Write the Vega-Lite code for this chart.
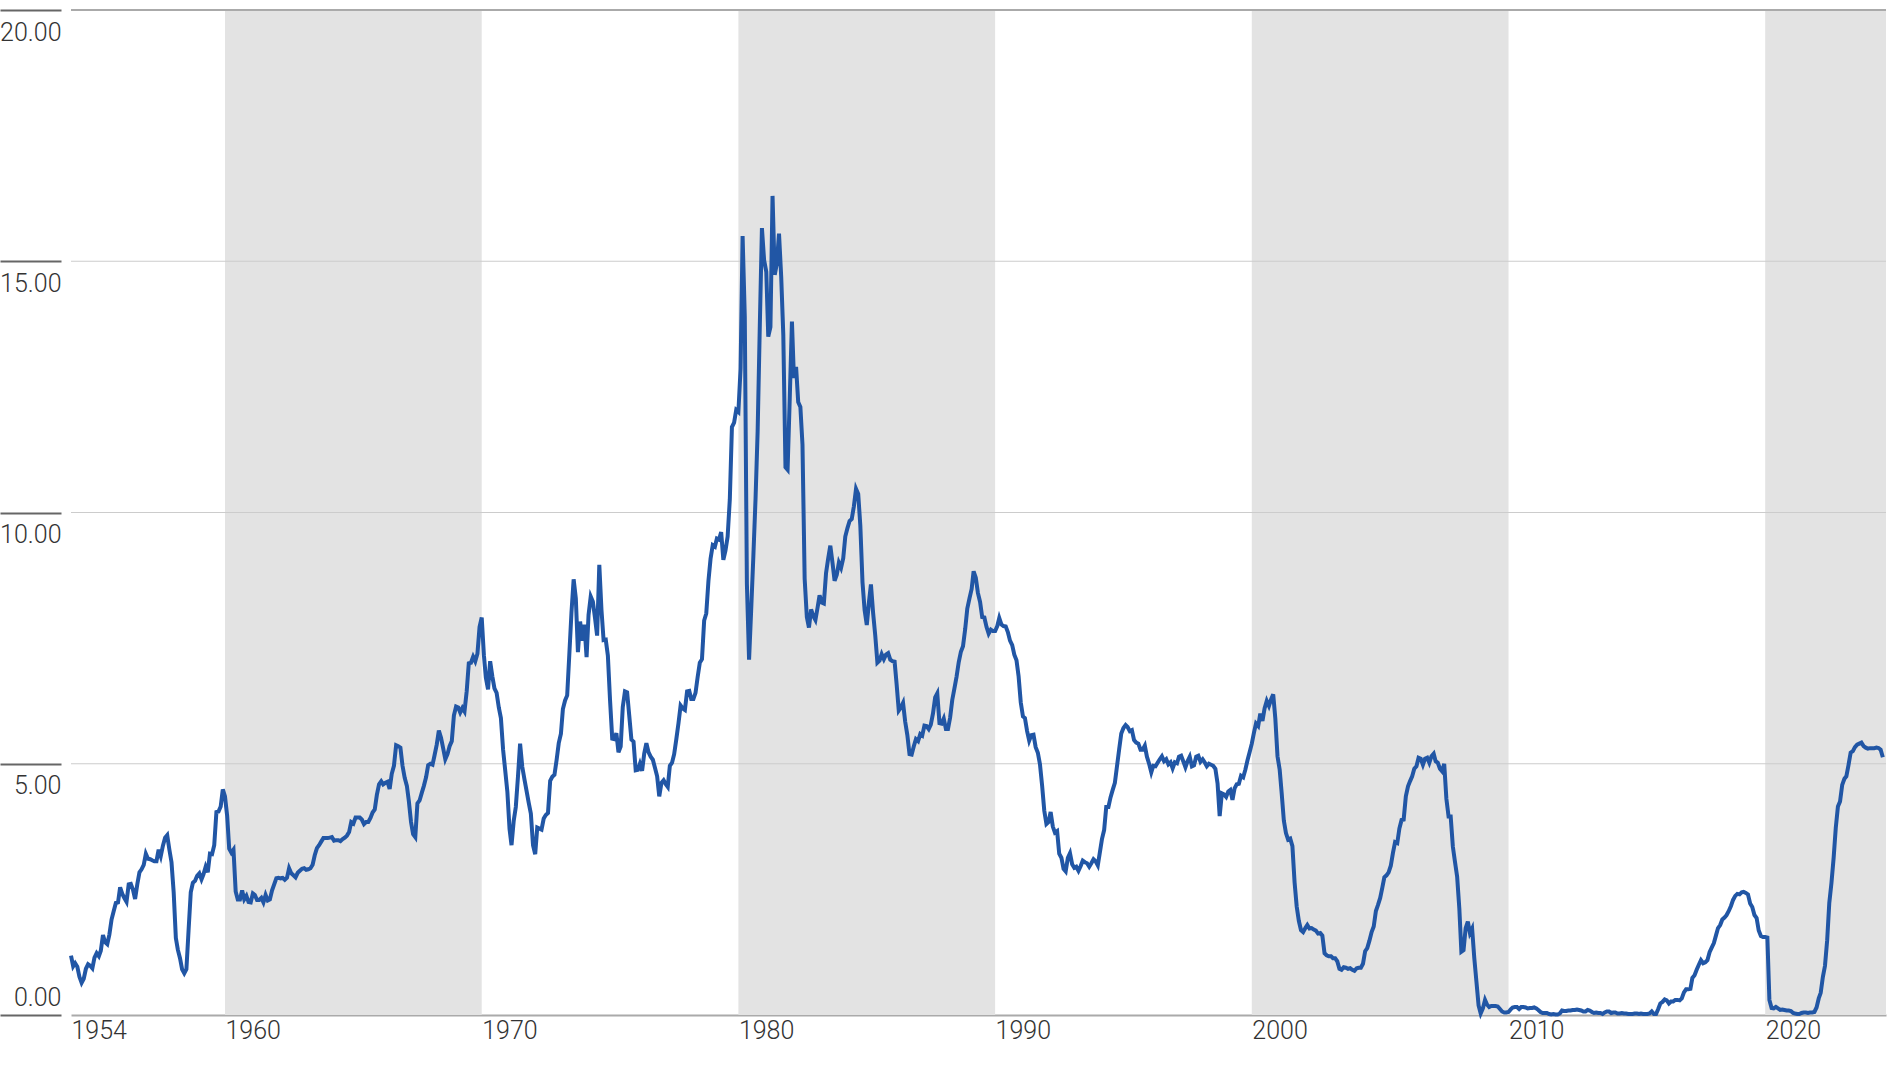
{
  "$schema": "https://vega.github.io/schema/vega-lite/v6.json",
  "width": 1815,
  "height": 1005,
  "autosize": {"type": "none"},
  "padding": {"left": 71, "top": 10, "right": 10, "bottom": 51},
  "background": "white",
  "config": {
    "view": {"stroke": null},
    "font": "Roboto"
  },
  "datasets": {
    "bands": [
      {"s": "1960-01-01", "e": "1970-01-01"},
      {"s": "1980-01-01", "e": "1990-01-01"},
      {"s": "2000-01-01", "e": "2010-01-01"},
      {"s": "2020-01-01", "e": "2024-09-15"}
    ],
    "grid": [{"g": 5}, {"g": 10}, {"g": 15}],
    "top": [{"g": 20}],
    "rate": [
{"d":"1954-01","v":1.18},{"d":"1954-02","v":0.97},{"d":"1954-03","v":1.03},{"d":"1954-04","v":0.96},{"d":"1954-05","v":0.76},{"d":"1954-06","v":0.64},{"d":"1954-07","v":0.72},{"d":"1954-08","v":0.92},{"d":"1954-09","v":1.01},{"d":"1954-10","v":0.98},{"d":"1954-11","v":0.93},{"d":"1954-12","v":1.14},
{"d":"1955-01","v":1.23},{"d":"1955-02","v":1.17},{"d":"1955-03","v":1.28},{"d":"1955-04","v":1.59},{"d":"1955-05","v":1.45},{"d":"1955-06","v":1.41},{"d":"1955-07","v":1.60},{"d":"1955-08","v":1.90},{"d":"1955-09","v":2.07},{"d":"1955-10","v":2.23},{"d":"1955-11","v":2.24},{"d":"1955-12","v":2.54},
{"d":"1956-01","v":2.41},{"d":"1956-02","v":2.32},{"d":"1956-03","v":2.25},{"d":"1956-04","v":2.60},{"d":"1956-05","v":2.61},{"d":"1956-06","v":2.49},{"d":"1956-07","v":2.31},{"d":"1956-08","v":2.60},{"d":"1956-09","v":2.84},{"d":"1956-10","v":2.90},{"d":"1956-11","v":2.99},{"d":"1956-12","v":3.21},
{"d":"1957-01","v":3.11},{"d":"1957-02","v":3.10},{"d":"1957-03","v":3.08},{"d":"1957-04","v":3.06},{"d":"1957-05","v":3.06},{"d":"1957-06","v":3.29},{"d":"1957-07","v":3.16},{"d":"1957-08","v":3.37},{"d":"1957-09","v":3.53},{"d":"1957-10","v":3.58},{"d":"1957-11","v":3.29},{"d":"1957-12","v":3.04},
{"d":"1958-01","v":2.44},{"d":"1958-02","v":1.53},{"d":"1958-03","v":1.30},{"d":"1958-04","v":1.13},{"d":"1958-05","v":0.91},{"d":"1958-06","v":0.83},{"d":"1958-07","v":0.91},{"d":"1958-08","v":1.69},{"d":"1958-09","v":2.44},{"d":"1958-10","v":2.63},{"d":"1958-11","v":2.67},{"d":"1958-12","v":2.77},
{"d":"1959-01","v":2.82},{"d":"1959-02","v":2.70},{"d":"1959-03","v":2.80},{"d":"1959-04","v":2.95},{"d":"1959-05","v":2.84},{"d":"1959-06","v":3.21},{"d":"1959-07","v":3.20},{"d":"1959-08","v":3.38},{"d":"1959-09","v":4.04},{"d":"1959-10","v":4.05},{"d":"1959-11","v":4.15},{"d":"1959-12","v":4.49},
{"d":"1960-01","v":4.35},{"d":"1960-02","v":3.96},{"d":"1960-03","v":3.31},{"d":"1960-04","v":3.23},{"d":"1960-05","v":3.29},{"d":"1960-06","v":2.46},{"d":"1960-07","v":2.30},{"d":"1960-08","v":2.30},{"d":"1960-09","v":2.48},{"d":"1960-10","v":2.30},{"d":"1960-11","v":2.37},{"d":"1960-12","v":2.25},
{"d":"1961-01","v":2.24},{"d":"1961-02","v":2.42},{"d":"1961-03","v":2.39},{"d":"1961-04","v":2.29},{"d":"1961-05","v":2.29},{"d":"1961-06","v":2.33},{"d":"1961-07","v":2.24},{"d":"1961-08","v":2.39},{"d":"1961-09","v":2.28},{"d":"1961-10","v":2.30},{"d":"1961-11","v":2.48},{"d":"1961-12","v":2.60},
{"d":"1962-01","v":2.72},{"d":"1962-02","v":2.73},{"d":"1962-03","v":2.72},{"d":"1962-04","v":2.73},{"d":"1962-05","v":2.69},{"d":"1962-06","v":2.73},{"d":"1962-07","v":2.92},{"d":"1962-08","v":2.82},{"d":"1962-09","v":2.78},{"d":"1962-10","v":2.74},{"d":"1962-11","v":2.83},{"d":"1962-12","v":2.87},
{"d":"1963-01","v":2.91},{"d":"1963-02","v":2.92},{"d":"1963-03","v":2.89},{"d":"1963-04","v":2.90},{"d":"1963-05","v":2.92},{"d":"1963-06","v":2.99},{"d":"1963-07","v":3.18},{"d":"1963-08","v":3.32},{"d":"1963-09","v":3.38},{"d":"1963-10","v":3.45},{"d":"1963-11","v":3.52},{"d":"1963-12","v":3.52},
{"d":"1964-01","v":3.52},{"d":"1964-02","v":3.53},{"d":"1964-03","v":3.54},{"d":"1964-04","v":3.47},{"d":"1964-05","v":3.48},{"d":"1964-06","v":3.48},{"d":"1964-07","v":3.46},{"d":"1964-08","v":3.50},{"d":"1964-09","v":3.53},{"d":"1964-10","v":3.57},{"d":"1964-11","v":3.64},{"d":"1964-12","v":3.84},
{"d":"1965-01","v":3.81},{"d":"1965-02","v":3.93},{"d":"1965-03","v":3.93},{"d":"1965-04","v":3.93},{"d":"1965-05","v":3.89},{"d":"1965-06","v":3.80},{"d":"1965-07","v":3.84},{"d":"1965-08","v":3.84},{"d":"1965-09","v":3.92},{"d":"1965-10","v":4.03},{"d":"1965-11","v":4.09},{"d":"1965-12","v":4.38},
{"d":"1966-01","v":4.59},{"d":"1966-02","v":4.65},{"d":"1966-03","v":4.59},{"d":"1966-04","v":4.62},{"d":"1966-05","v":4.64},{"d":"1966-06","v":4.50},{"d":"1966-07","v":4.80},{"d":"1966-08","v":4.96},{"d":"1966-09","v":5.37},{"d":"1966-10","v":5.35},{"d":"1966-11","v":5.32},{"d":"1966-12","v":4.96},
{"d":"1967-01","v":4.72},{"d":"1967-02","v":4.56},{"d":"1967-03","v":4.26},{"d":"1967-04","v":3.84},{"d":"1967-05","v":3.60},{"d":"1967-06","v":3.54},{"d":"1967-07","v":4.21},{"d":"1967-08","v":4.27},{"d":"1967-09","v":4.42},{"d":"1967-10","v":4.56},{"d":"1967-11","v":4.73},{"d":"1967-12","v":4.97},
{"d":"1968-01","v":5.00},{"d":"1968-02","v":4.98},{"d":"1968-03","v":5.17},{"d":"1968-04","v":5.38},{"d":"1968-05","v":5.66},{"d":"1968-06","v":5.52},{"d":"1968-07","v":5.31},{"d":"1968-08","v":5.09},{"d":"1968-09","v":5.19},{"d":"1968-10","v":5.35},{"d":"1968-11","v":5.45},{"d":"1968-12","v":5.96},
{"d":"1969-01","v":6.14},{"d":"1969-02","v":6.12},{"d":"1969-03","v":6.02},{"d":"1969-04","v":6.11},{"d":"1969-05","v":6.04},{"d":"1969-06","v":6.44},{"d":"1969-07","v":7.00},{"d":"1969-08","v":7.01},{"d":"1969-09","v":7.13},{"d":"1969-10","v":7.04},{"d":"1969-11","v":7.19},{"d":"1969-12","v":7.72},
{"d":"1970-01","v":7.91},{"d":"1970-02","v":7.16},{"d":"1970-03","v":6.71},{"d":"1970-04","v":6.48},{"d":"1970-05","v":7.04},{"d":"1970-06","v":6.74},{"d":"1970-07","v":6.50},{"d":"1970-08","v":6.41},{"d":"1970-09","v":6.12},{"d":"1970-10","v":5.91},{"d":"1970-11","v":5.28},{"d":"1970-12","v":4.87},
{"d":"1971-01","v":4.44},{"d":"1971-02","v":3.70},{"d":"1971-03","v":3.38},{"d":"1971-04","v":3.86},{"d":"1971-05","v":4.14},{"d":"1971-06","v":4.75},{"d":"1971-07","v":5.40},{"d":"1971-08","v":4.94},{"d":"1971-09","v":4.69},{"d":"1971-10","v":4.46},{"d":"1971-11","v":4.22},{"d":"1971-12","v":4.01},
{"d":"1972-01","v":3.38},{"d":"1972-02","v":3.20},{"d":"1972-03","v":3.73},{"d":"1972-04","v":3.71},{"d":"1972-05","v":3.69},{"d":"1972-06","v":3.91},{"d":"1972-07","v":3.98},{"d":"1972-08","v":4.02},{"d":"1972-09","v":4.66},{"d":"1972-10","v":4.74},{"d":"1972-11","v":4.78},{"d":"1972-12","v":5.07},
{"d":"1973-01","v":5.41},{"d":"1973-02","v":5.60},{"d":"1973-03","v":6.09},{"d":"1973-04","v":6.26},{"d":"1973-05","v":6.36},{"d":"1973-06","v":7.19},{"d":"1973-07","v":8.01},{"d":"1973-08","v":8.67},{"d":"1973-09","v":8.29},{"d":"1973-10","v":7.22},{"d":"1973-11","v":7.83},{"d":"1973-12","v":7.45},
{"d":"1974-01","v":7.77},{"d":"1974-02","v":7.12},{"d":"1974-03","v":7.96},{"d":"1974-04","v":8.33},{"d":"1974-05","v":8.23},{"d":"1974-06","v":7.90},{"d":"1974-07","v":7.55},{"d":"1974-08","v":8.96},{"d":"1974-09","v":8.06},{"d":"1974-10","v":7.46},{"d":"1974-11","v":7.47},{"d":"1974-12","v":7.15},
{"d":"1975-01","v":6.26},{"d":"1975-02","v":5.50},{"d":"1975-03","v":5.49},{"d":"1975-04","v":5.61},{"d":"1975-05","v":5.23},{"d":"1975-06","v":5.34},{"d":"1975-07","v":6.13},{"d":"1975-08","v":6.44},{"d":"1975-09","v":6.42},{"d":"1975-10","v":5.96},{"d":"1975-11","v":5.48},{"d":"1975-12","v":5.44},
{"d":"1976-01","v":4.87},{"d":"1976-02","v":4.88},{"d":"1976-03","v":5.00},{"d":"1976-04","v":4.86},{"d":"1976-05","v":5.20},{"d":"1976-06","v":5.41},{"d":"1976-07","v":5.23},{"d":"1976-08","v":5.14},{"d":"1976-09","v":5.08},{"d":"1976-10","v":4.92},{"d":"1976-11","v":4.75},{"d":"1976-12","v":4.35},
{"d":"1977-01","v":4.62},{"d":"1977-02","v":4.67},{"d":"1977-03","v":4.60},{"d":"1977-04","v":4.54},{"d":"1977-05","v":4.96},{"d":"1977-06","v":5.02},{"d":"1977-07","v":5.19},{"d":"1977-08","v":5.49},{"d":"1977-09","v":5.81},{"d":"1977-10","v":6.16},{"d":"1977-11","v":6.10},{"d":"1977-12","v":6.07},
{"d":"1978-01","v":6.44},{"d":"1978-02","v":6.45},{"d":"1978-03","v":6.29},{"d":"1978-04","v":6.29},{"d":"1978-05","v":6.41},{"d":"1978-06","v":6.73},{"d":"1978-07","v":7.01},{"d":"1978-08","v":7.08},{"d":"1978-09","v":7.85},{"d":"1978-10","v":7.99},{"d":"1978-11","v":8.64},{"d":"1978-12","v":9.08},
{"d":"1979-01","v":9.35},{"d":"1979-02","v":9.32},{"d":"1979-03","v":9.48},{"d":"1979-04","v":9.46},{"d":"1979-05","v":9.61},{"d":"1979-06","v":9.06},{"d":"1979-07","v":9.24},{"d":"1979-08","v":9.52},{"d":"1979-09","v":10.26},{"d":"1979-10","v":11.70},{"d":"1979-11","v":11.79},{"d":"1979-12","v":12.04},
{"d":"1980-01","v":12.00},{"d":"1980-02","v":12.86},{"d":"1980-03","v":15.50},{"d":"1980-04","v":13.90},{"d":"1980-05","v":8.58},{"d":"1980-06","v":7.07},{"d":"1980-07","v":8.06},{"d":"1980-08","v":9.13},{"d":"1980-09","v":10.27},{"d":"1980-10","v":11.62},{"d":"1980-11","v":13.73},{"d":"1980-12","v":15.66},
{"d":"1981-01","v":15.02},{"d":"1981-02","v":14.79},{"d":"1981-03","v":13.50},{"d":"1981-04","v":13.69},{"d":"1981-05","v":16.30},{"d":"1981-06","v":14.73},{"d":"1981-07","v":14.95},{"d":"1981-08","v":15.55},{"d":"1981-09","v":14.70},{"d":"1981-10","v":13.54},{"d":"1981-11","v":10.90},{"d":"1981-12","v":10.85},
{"d":"1982-01","v":12.28},{"d":"1982-02","v":13.80},{"d":"1982-03","v":12.68},{"d":"1982-04","v":12.90},{"d":"1982-05","v":12.20},{"d":"1982-06","v":12.10},{"d":"1982-07","v":11.35},{"d":"1982-08","v":8.68},{"d":"1982-09","v":7.92},{"d":"1982-10","v":7.71},{"d":"1982-11","v":8.07},{"d":"1982-12","v":7.94},
{"d":"1983-01","v":7.86},{"d":"1983-02","v":8.11},{"d":"1983-03","v":8.35},{"d":"1983-04","v":8.21},{"d":"1983-05","v":8.19},{"d":"1983-06","v":8.79},{"d":"1983-07","v":9.08},{"d":"1983-08","v":9.34},{"d":"1983-09","v":9.00},{"d":"1983-10","v":8.64},{"d":"1983-11","v":8.76},{"d":"1983-12","v":9.00},
{"d":"1984-01","v":8.90},{"d":"1984-02","v":9.09},{"d":"1984-03","v":9.52},{"d":"1984-04","v":9.69},{"d":"1984-05","v":9.83},{"d":"1984-06","v":9.87},{"d":"1984-07","v":10.12},{"d":"1984-08","v":10.47},{"d":"1984-09","v":10.37},{"d":"1984-10","v":9.74},{"d":"1984-11","v":8.61},{"d":"1984-12","v":8.06},
{"d":"1985-01","v":7.76},{"d":"1985-02","v":8.22},{"d":"1985-03","v":8.57},{"d":"1985-04","v":8.00},{"d":"1985-05","v":7.56},{"d":"1985-06","v":7.01},{"d":"1985-07","v":7.05},{"d":"1985-08","v":7.18},{"d":"1985-09","v":7.08},{"d":"1985-10","v":7.17},{"d":"1985-11","v":7.20},{"d":"1985-12","v":7.07},
{"d":"1986-01","v":7.04},{"d":"1986-02","v":7.03},{"d":"1986-03","v":6.59},{"d":"1986-04","v":6.06},{"d":"1986-05","v":6.12},{"d":"1986-06","v":6.21},{"d":"1986-07","v":5.84},{"d":"1986-08","v":5.57},{"d":"1986-09","v":5.19},{"d":"1986-10","v":5.18},{"d":"1986-11","v":5.35},{"d":"1986-12","v":5.49},
{"d":"1987-01","v":5.45},{"d":"1987-02","v":5.59},{"d":"1987-03","v":5.56},{"d":"1987-04","v":5.76},{"d":"1987-05","v":5.75},{"d":"1987-06","v":5.69},{"d":"1987-07","v":5.78},{"d":"1987-08","v":6.00},{"d":"1987-09","v":6.32},{"d":"1987-10","v":6.40},{"d":"1987-11","v":5.81},{"d":"1987-12","v":5.80},
{"d":"1988-01","v":5.90},{"d":"1988-02","v":5.69},{"d":"1988-03","v":5.69},{"d":"1988-04","v":5.92},{"d":"1988-05","v":6.27},{"d":"1988-06","v":6.50},{"d":"1988-07","v":6.73},{"d":"1988-08","v":7.02},{"d":"1988-09","v":7.23},{"d":"1988-10","v":7.34},{"d":"1988-11","v":7.68},{"d":"1988-12","v":8.09},
{"d":"1989-01","v":8.29},{"d":"1989-02","v":8.48},{"d":"1989-03","v":8.83},{"d":"1989-04","v":8.70},{"d":"1989-05","v":8.40},{"d":"1989-06","v":8.22},{"d":"1989-07","v":7.92},{"d":"1989-08","v":7.91},{"d":"1989-09","v":7.72},{"d":"1989-10","v":7.59},{"d":"1989-11","v":7.67},{"d":"1989-12","v":7.64},
{"d":"1990-01","v":7.64},{"d":"1990-02","v":7.74},{"d":"1990-03","v":7.90},{"d":"1990-04","v":7.77},{"d":"1990-05","v":7.74},{"d":"1990-06","v":7.73},{"d":"1990-07","v":7.62},{"d":"1990-08","v":7.45},{"d":"1990-09","v":7.36},{"d":"1990-10","v":7.17},{"d":"1990-11","v":7.06},{"d":"1990-12","v":6.74},
{"d":"1991-01","v":6.22},{"d":"1991-02","v":5.94},{"d":"1991-03","v":5.91},{"d":"1991-04","v":5.65},{"d":"1991-05","v":5.46},{"d":"1991-06","v":5.57},{"d":"1991-07","v":5.58},{"d":"1991-08","v":5.33},{"d":"1991-09","v":5.22},{"d":"1991-10","v":4.99},{"d":"1991-11","v":4.56},{"d":"1991-12","v":4.07},
{"d":"1992-01","v":3.80},{"d":"1992-02","v":3.84},{"d":"1992-03","v":4.04},{"d":"1992-04","v":3.75},{"d":"1992-05","v":3.63},{"d":"1992-06","v":3.66},{"d":"1992-07","v":3.21},{"d":"1992-08","v":3.13},{"d":"1992-09","v":2.91},{"d":"1992-10","v":2.86},{"d":"1992-11","v":3.13},{"d":"1992-12","v":3.22},
{"d":"1993-01","v":3.00},{"d":"1993-02","v":2.93},{"d":"1993-03","v":2.95},{"d":"1993-04","v":2.87},{"d":"1993-05","v":2.96},{"d":"1993-06","v":3.07},{"d":"1993-07","v":3.04},{"d":"1993-08","v":3.02},{"d":"1993-09","v":2.95},{"d":"1993-10","v":3.02},{"d":"1993-11","v":3.10},{"d":"1993-12","v":3.06},
{"d":"1994-01","v":2.98},{"d":"1994-02","v":3.25},{"d":"1994-03","v":3.50},{"d":"1994-04","v":3.68},{"d":"1994-05","v":4.14},{"d":"1994-06","v":4.14},{"d":"1994-07","v":4.33},{"d":"1994-08","v":4.48},{"d":"1994-09","v":4.62},{"d":"1994-10","v":4.95},{"d":"1994-11","v":5.29},{"d":"1994-12","v":5.60},
{"d":"1995-01","v":5.71},{"d":"1995-02","v":5.77},{"d":"1995-03","v":5.73},{"d":"1995-04","v":5.65},{"d":"1995-05","v":5.67},{"d":"1995-06","v":5.47},{"d":"1995-07","v":5.42},{"d":"1995-08","v":5.40},{"d":"1995-09","v":5.28},{"d":"1995-10","v":5.28},{"d":"1995-11","v":5.36},{"d":"1995-12","v":5.14},
{"d":"1996-01","v":5.00},{"d":"1996-02","v":4.83},{"d":"1996-03","v":4.96},{"d":"1996-04","v":4.95},{"d":"1996-05","v":5.02},{"d":"1996-06","v":5.09},{"d":"1996-07","v":5.15},{"d":"1996-08","v":5.05},{"d":"1996-09","v":5.09},{"d":"1996-10","v":4.99},{"d":"1996-11","v":5.03},{"d":"1996-12","v":4.91},
{"d":"1997-01","v":5.03},{"d":"1997-02","v":5.01},{"d":"1997-03","v":5.14},{"d":"1997-04","v":5.16},{"d":"1997-05","v":5.05},{"d":"1997-06","v":4.93},{"d":"1997-07","v":5.05},{"d":"1997-08","v":5.14},{"d":"1997-09","v":4.95},{"d":"1997-10","v":4.97},{"d":"1997-11","v":5.14},{"d":"1997-12","v":5.16},
{"d":"1998-01","v":5.04},{"d":"1998-02","v":5.09},{"d":"1998-03","v":5.03},{"d":"1998-04","v":4.95},{"d":"1998-05","v":5.00},{"d":"1998-06","v":4.98},{"d":"1998-07","v":4.96},{"d":"1998-08","v":4.90},{"d":"1998-09","v":4.61},{"d":"1998-10","v":3.96},{"d":"1998-11","v":4.41},{"d":"1998-12","v":4.39},
{"d":"1999-01","v":4.34},{"d":"1999-02","v":4.45},{"d":"1999-03","v":4.48},{"d":"1999-04","v":4.28},{"d":"1999-05","v":4.51},{"d":"1999-06","v":4.59},{"d":"1999-07","v":4.60},{"d":"1999-08","v":4.76},{"d":"1999-09","v":4.73},{"d":"1999-10","v":4.88},{"d":"1999-11","v":5.07},{"d":"1999-12","v":5.23},
{"d":"2000-01","v":5.40},{"d":"2000-02","v":5.62},{"d":"2000-03","v":5.80},{"d":"2000-04","v":5.75},{"d":"2000-05","v":6.00},{"d":"2000-06","v":5.85},{"d":"2000-07","v":6.10},{"d":"2000-08","v":6.25},{"d":"2000-09","v":6.15},{"d":"2000-10","v":6.28},{"d":"2000-11","v":6.38},{"d":"2000-12","v":5.90},
{"d":"2001-01","v":5.15},{"d":"2001-02","v":4.88},{"d":"2001-03","v":4.42},{"d":"2001-04","v":3.87},{"d":"2001-05","v":3.62},{"d":"2001-06","v":3.49},{"d":"2001-07","v":3.51},{"d":"2001-08","v":3.36},{"d":"2001-09","v":2.64},{"d":"2001-10","v":2.16},{"d":"2001-11","v":1.87},{"d":"2001-12","v":1.69},
{"d":"2002-01","v":1.65},{"d":"2002-02","v":1.73},{"d":"2002-03","v":1.79},{"d":"2002-04","v":1.72},{"d":"2002-05","v":1.73},{"d":"2002-06","v":1.70},{"d":"2002-07","v":1.68},{"d":"2002-08","v":1.62},{"d":"2002-09","v":1.63},{"d":"2002-10","v":1.58},{"d":"2002-11","v":1.23},{"d":"2002-12","v":1.19},
{"d":"2003-01","v":1.17},{"d":"2003-02","v":1.17},{"d":"2003-03","v":1.13},{"d":"2003-04","v":1.13},{"d":"2003-05","v":1.07},{"d":"2003-06","v":0.92},{"d":"2003-07","v":0.90},{"d":"2003-08","v":0.95},{"d":"2003-09","v":0.94},{"d":"2003-10","v":0.92},{"d":"2003-11","v":0.93},{"d":"2003-12","v":0.90},
{"d":"2004-01","v":0.88},{"d":"2004-02","v":0.93},{"d":"2004-03","v":0.94},{"d":"2004-04","v":0.94},{"d":"2004-05","v":1.02},{"d":"2004-06","v":1.27},{"d":"2004-07","v":1.33},{"d":"2004-08","v":1.48},{"d":"2004-09","v":1.65},{"d":"2004-10","v":1.76},{"d":"2004-11","v":2.07},{"d":"2004-12","v":2.19},
{"d":"2005-01","v":2.33},{"d":"2005-02","v":2.54},{"d":"2005-03","v":2.74},{"d":"2005-04","v":2.78},{"d":"2005-05","v":2.84},{"d":"2005-06","v":2.97},{"d":"2005-07","v":3.22},{"d":"2005-08","v":3.44},{"d":"2005-09","v":3.42},{"d":"2005-10","v":3.71},{"d":"2005-11","v":3.88},{"d":"2005-12","v":3.89},
{"d":"2006-01","v":4.35},{"d":"2006-02","v":4.55},{"d":"2006-03","v":4.65},{"d":"2006-04","v":4.75},{"d":"2006-05","v":4.90},{"d":"2006-06","v":4.95},{"d":"2006-07","v":5.12},{"d":"2006-08","v":5.10},{"d":"2006-09","v":4.98},{"d":"2006-10","v":5.10},{"d":"2006-11","v":5.12},{"d":"2006-12","v":5.02},
{"d":"2007-01","v":5.15},{"d":"2007-02","v":5.20},{"d":"2007-03","v":5.05},{"d":"2007-04","v":5.02},{"d":"2007-05","v":4.90},{"d":"2007-06","v":4.85},{"d":"2007-07","v":5.00},{"d":"2007-08","v":4.30},{"d":"2007-09","v":3.95},{"d":"2007-10","v":3.95},{"d":"2007-11","v":3.35},{"d":"2007-12","v":3.05},
{"d":"2008-01","v":2.75},{"d":"2008-02","v":2.12},{"d":"2008-03","v":1.26},{"d":"2008-04","v":1.29},{"d":"2008-05","v":1.73},{"d":"2008-06","v":1.86},{"d":"2008-07","v":1.63},{"d":"2008-08","v":1.72},{"d":"2008-09","v":1.13},{"d":"2008-10","v":0.67},{"d":"2008-11","v":0.19},{"d":"2008-12","v":0.03},
{"d":"2009-01","v":0.13},{"d":"2009-02","v":0.30},{"d":"2009-03","v":0.21},{"d":"2009-04","v":0.16},{"d":"2009-05","v":0.18},{"d":"2009-06","v":0.18},{"d":"2009-07","v":0.18},{"d":"2009-08","v":0.17},{"d":"2009-09","v":0.12},{"d":"2009-10","v":0.07},{"d":"2009-11","v":0.05},{"d":"2009-12","v":0.05},
{"d":"2010-01","v":0.06},{"d":"2010-02","v":0.11},{"d":"2010-03","v":0.15},{"d":"2010-04","v":0.16},{"d":"2010-05","v":0.16},{"d":"2010-06","v":0.12},{"d":"2010-07","v":0.16},{"d":"2010-08","v":0.16},{"d":"2010-09","v":0.15},{"d":"2010-10","v":0.13},{"d":"2010-11","v":0.14},{"d":"2010-12","v":0.14},
{"d":"2011-01","v":0.15},{"d":"2011-02","v":0.13},{"d":"2011-03","v":0.10},{"d":"2011-04","v":0.06},{"d":"2011-05","v":0.04},{"d":"2011-06","v":0.04},{"d":"2011-07","v":0.04},{"d":"2011-08","v":0.02},{"d":"2011-09","v":0.01},{"d":"2011-10","v":0.02},{"d":"2011-11","v":0.01},{"d":"2011-12","v":0.01},
{"d":"2012-01","v":0.03},{"d":"2012-02","v":0.09},{"d":"2012-03","v":0.08},{"d":"2012-04","v":0.08},{"d":"2012-05","v":0.09},{"d":"2012-06","v":0.09},{"d":"2012-07","v":0.10},{"d":"2012-08","v":0.10},{"d":"2012-09","v":0.11},{"d":"2012-10","v":0.10},{"d":"2012-11","v":0.09},{"d":"2012-12","v":0.07},
{"d":"2013-01","v":0.07},{"d":"2013-02","v":0.10},{"d":"2013-03","v":0.09},{"d":"2013-04","v":0.06},{"d":"2013-05","v":0.04},{"d":"2013-06","v":0.05},{"d":"2013-07","v":0.04},{"d":"2013-08","v":0.04},{"d":"2013-09","v":0.02},{"d":"2013-10","v":0.05},{"d":"2013-11","v":0.07},{"d":"2013-12","v":0.07},
{"d":"2014-01","v":0.04},{"d":"2014-02","v":0.05},{"d":"2014-03","v":0.05},{"d":"2014-04","v":0.03},{"d":"2014-05","v":0.03},{"d":"2014-06","v":0.04},{"d":"2014-07","v":0.03},{"d":"2014-08","v":0.03},{"d":"2014-09","v":0.02},{"d":"2014-10","v":0.02},{"d":"2014-11","v":0.02},{"d":"2014-12","v":0.03},
{"d":"2015-01","v":0.03},{"d":"2015-02","v":0.02},{"d":"2015-03","v":0.03},{"d":"2015-04","v":0.02},{"d":"2015-05","v":0.02},{"d":"2015-06","v":0.02},{"d":"2015-07","v":0.03},{"d":"2015-08","v":0.07},{"d":"2015-09","v":0.02},{"d":"2015-10","v":0.02},{"d":"2015-11","v":0.12},{"d":"2015-12","v":0.23},
{"d":"2016-01","v":0.26},{"d":"2016-02","v":0.31},{"d":"2016-03","v":0.29},{"d":"2016-04","v":0.23},{"d":"2016-05","v":0.27},{"d":"2016-06","v":0.27},{"d":"2016-07","v":0.30},{"d":"2016-08","v":0.30},{"d":"2016-09","v":0.29},{"d":"2016-10","v":0.33},{"d":"2016-11","v":0.45},{"d":"2016-12","v":0.51},
{"d":"2017-01","v":0.51},{"d":"2017-02","v":0.52},{"d":"2017-03","v":0.74},{"d":"2017-04","v":0.79},{"d":"2017-05","v":0.90},{"d":"2017-06","v":1.00},{"d":"2017-07","v":1.09},{"d":"2017-08","v":1.03},{"d":"2017-09","v":1.05},{"d":"2017-10","v":1.09},{"d":"2017-11","v":1.25},{"d":"2017-12","v":1.34},
{"d":"2018-01","v":1.43},{"d":"2018-02","v":1.59},{"d":"2018-03","v":1.73},{"d":"2018-04","v":1.79},{"d":"2018-05","v":1.90},{"d":"2018-06","v":1.94},{"d":"2018-07","v":1.99},{"d":"2018-08","v":2.07},{"d":"2018-09","v":2.17},{"d":"2018-10","v":2.29},{"d":"2018-11","v":2.37},{"d":"2018-12","v":2.41},
{"d":"2019-01","v":2.40},{"d":"2019-02","v":2.44},{"d":"2019-03","v":2.45},{"d":"2019-04","v":2.43},{"d":"2019-05","v":2.40},{"d":"2019-06","v":2.22},{"d":"2019-07","v":2.15},{"d":"2019-08","v":1.99},{"d":"2019-09","v":1.93},{"d":"2019-10","v":1.68},{"d":"2019-11","v":1.57},{"d":"2019-12","v":1.55},
{"d":"2020-01","v":1.55},{"d":"2020-02","v":1.54},{"d":"2020-03","v":0.30},{"d":"2020-04","v":0.14},{"d":"2020-05","v":0.13},{"d":"2020-06","v":0.16},{"d":"2020-07","v":0.13},{"d":"2020-08","v":0.10},{"d":"2020-09","v":0.11},{"d":"2020-10","v":0.10},{"d":"2020-11","v":0.09},{"d":"2020-12","v":0.09},
{"d":"2021-01","v":0.08},{"d":"2021-02","v":0.04},{"d":"2021-03","v":0.03},{"d":"2021-04","v":0.02},{"d":"2021-05","v":0.02},{"d":"2021-06","v":0.04},{"d":"2021-07","v":0.05},{"d":"2021-08","v":0.05},{"d":"2021-09","v":0.04},{"d":"2021-10","v":0.05},{"d":"2021-11","v":0.05},{"d":"2021-12","v":0.06},
{"d":"2022-01","v":0.15},{"d":"2022-02","v":0.33},{"d":"2022-03","v":0.44},{"d":"2022-04","v":0.76},{"d":"2022-05","v":0.98},{"d":"2022-06","v":1.49},{"d":"2022-07","v":2.23},{"d":"2022-08","v":2.63},{"d":"2022-09","v":3.13},{"d":"2022-10","v":3.72},{"d":"2022-11","v":4.15},{"d":"2022-12","v":4.25},
{"d":"2023-01","v":4.58},{"d":"2023-02","v":4.70},{"d":"2023-03","v":4.75},{"d":"2023-04","v":4.98},{"d":"2023-05","v":5.22},{"d":"2023-06","v":5.25},{"d":"2023-07","v":5.33},{"d":"2023-08","v":5.38},{"d":"2023-09","v":5.40},{"d":"2023-10","v":5.42},{"d":"2023-11","v":5.35},{"d":"2023-12","v":5.32},
{"d":"2024-01","v":5.30},{"d":"2024-02","v":5.31},{"d":"2024-03","v":5.31},{"d":"2024-04","v":5.31},{"d":"2024-05","v":5.32},{"d":"2024-06","v":5.31},{"d":"2024-07","v":5.28},{"d":"2024-08","v":5.13}
    ]
  },
  "layer": [
    {
      "data": {"name": "bands"},
      "mark": {"type": "rect", "color": "#e3e3e3"},
      "encoding": {
        "x": {
          "field": "s",
          "type": "temporal",
          "scale": {"domain": ["1954-01-01", "2024-09-15"]},
          "axis": {
            "values": [
              {"year": 1954, "month": 1, "date": 1},
              {"year": 1960, "month": 1, "date": 1},
              {"year": 1970, "month": 1, "date": 1},
              {"year": 1980, "month": 1, "date": 1},
              {"year": 1990, "month": 1, "date": 1},
              {"year": 2000, "month": 1, "date": 1},
              {"year": 2010, "month": 1, "date": 1},
              {"year": 2020, "month": 1, "date": 1}
            ],
            "format": "%Y",
            "title": null,
            "grid": false,
            "ticks": false,
            "domain": true,
            "domainColor": "#aaaaaa",
            "domainWidth": 2,
            "labelAlign": "left",
            "labelBaseline": "top",
            "labelPadding": 3,
            "labelFont": "Roboto",
            "labelFontWeight": 300,
            "labelFontSize": 25,
            "labelColor": "#333333",
            "labelOverlap": false,
            "labelFlush": false
          }
        },
        "x2": {"field": "e"},
        "y": {
          "datum": 20,
          "type": "quantitative",
          "scale": {"domain": [0, 20], "nice": false},
          "axis": {
            "values": [0, 5, 10, 15, 20],
            "format": ".2f",
            "title": null,
            "grid": false,
            "domain": false,
            "offset": 10,
            "tickSize": 61,
            "tickWidth": 2,
            "tickColor": "#666666",
            "labelAlign": "right",
            "labelPadding": -61,
            "labelFont": "Roboto",
            "labelFontWeight": 300,
            "labelFontSize": 25,
            "labelColor": "#333333",
            "labelOverlap": false,
            "labelBaseline": {"condition": {"test": "datum.value === 0", "value": "alphabetic"}, "value": "top"},
            "labelOffset": {"condition": {"test": "datum.value === 0", "value": -10}, "value": 10}
          }
        },
        "y2": {"datum": 0}
      }
    },
    {
      "data": {"name": "grid"},
      "mark": {"type": "rule", "color": "#cccccc", "strokeWidth": 1.2},
      "encoding": {"y": {"field": "g", "type": "quantitative"}}
    },
    {
      "data": {"name": "top"},
      "mark": {"type": "rule", "color": "#aaaaaa", "strokeWidth": 2},
      "encoding": {"y": {"field": "g", "type": "quantitative"}}
    },
    {
      "data": {"name": "rate"},
      "mark": {"type": "line", "color": "#2156a5", "strokeWidth": 4},
      "encoding": {
        "x": {
          "field": "d",
          "type": "temporal",
          "axis": {
            "values": [
              {"year": 1954, "month": 1, "date": 1},
              {"year": 1960, "month": 1, "date": 1},
              {"year": 1970, "month": 1, "date": 1},
              {"year": 1980, "month": 1, "date": 1},
              {"year": 1990, "month": 1, "date": 1},
              {"year": 2000, "month": 1, "date": 1},
              {"year": 2010, "month": 1, "date": 1},
              {"year": 2020, "month": 1, "date": 1}
            ],
            "format": "%Y",
            "title": null,
            "grid": false,
            "ticks": false,
            "domain": true,
            "domainColor": "#aaaaaa",
            "domainWidth": 2,
            "labelAlign": "left",
            "labelBaseline": "top",
            "labelPadding": 3,
            "labelFont": "Roboto",
            "labelFontWeight": 300,
            "labelFontSize": 25,
            "labelColor": "#333333",
            "labelOverlap": false,
            "labelFlush": false
          }
        },
        "y": {"field": "v", "type": "quantitative"}
      }
    }
  ]
}
